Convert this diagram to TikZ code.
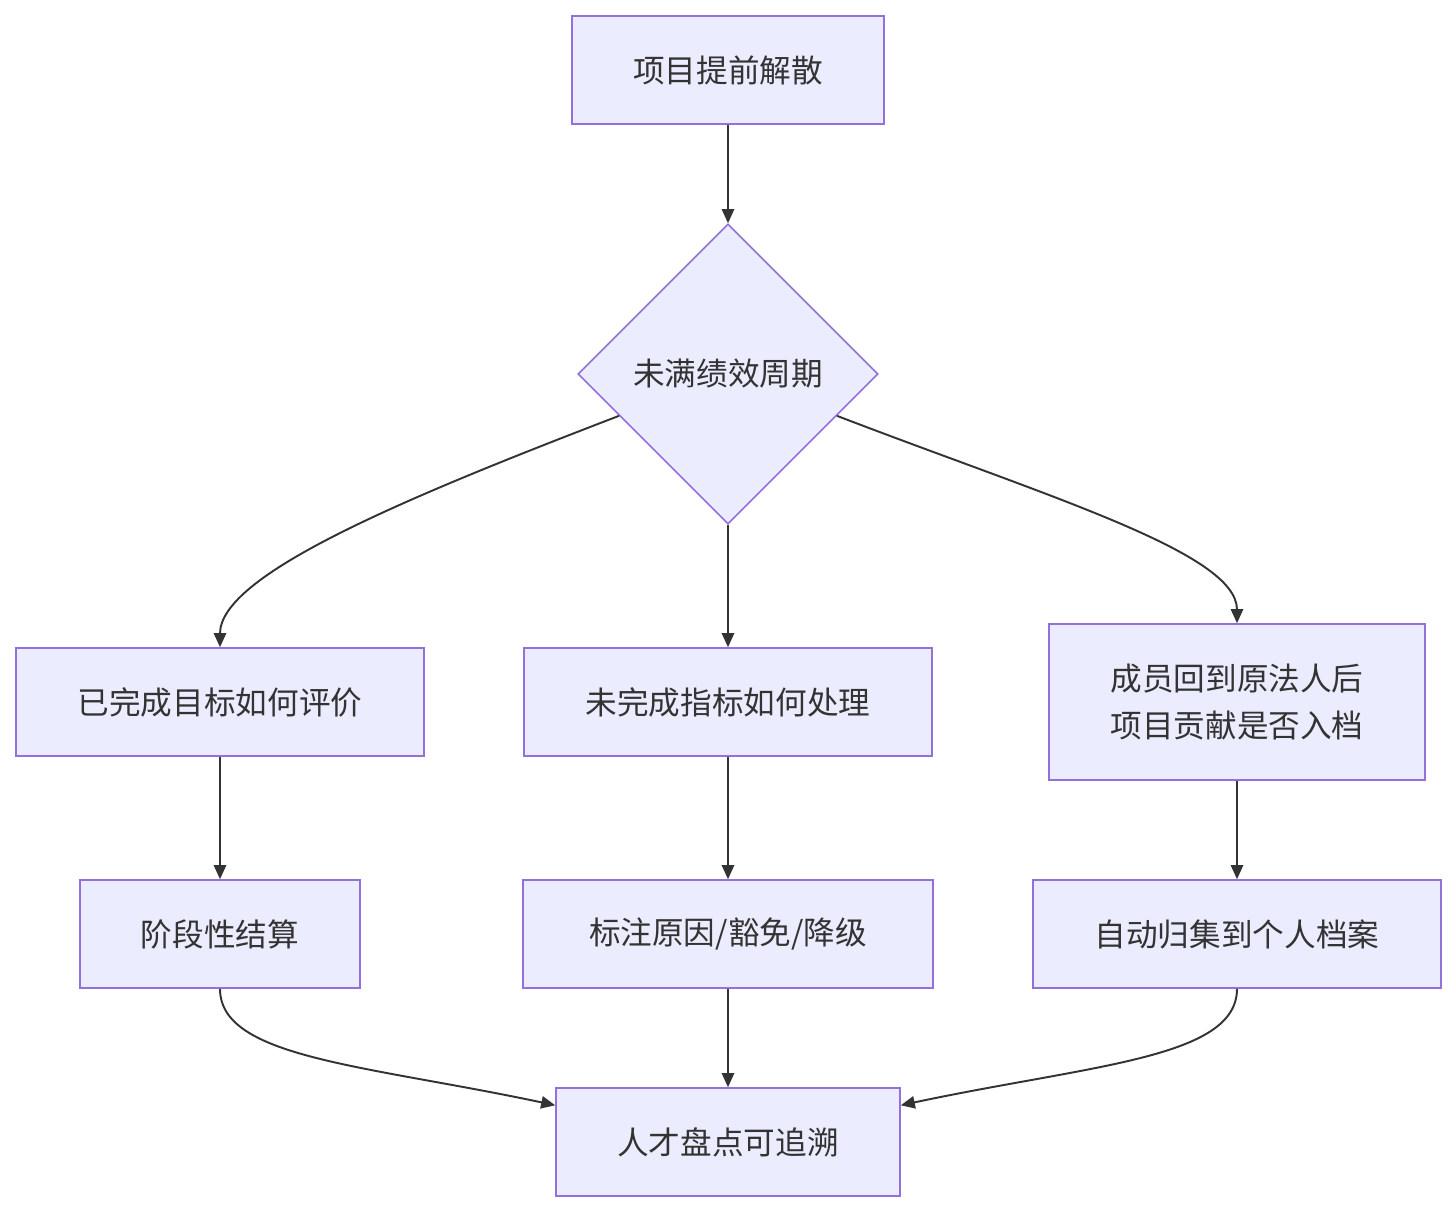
\documentclass[tikz,border=0pt]{standalone}
\usepackage{fontspec}
\setmainfont{Noto Sans CJK SC}
\usepackage{xcolor}
\usepackage{tikz}
\usetikzlibrary{positioning, arrows.meta, shapes.geometric, calc}

\definecolor{boxfill}{HTML}{ECECFF}
\definecolor{boxline}{HTML}{9370DB}
\definecolor{linkcol}{HTML}{333333}

\begin{document}
\begin{tikzpicture}[
        font=\fontsize{18}{27}\selectfont,
        box/.style={draw=boxline, fill=boxfill, line width=0.9pt, text=linkcol, minimum height=2.16cm, inner sep=0pt, align=center},
        choice/.style={diamond, draw=boxline, fill=boxfill, line width=0.9pt, text=linkcol, minimum width=6cm, minimum height=6cm, inner sep=0pt},
        flow/.style={draw=linkcol, line width=1.1pt, -{Triangle[length=8pt, width=7pt]}}
    ]
        \useasboundingbox (0,0) rectangle (29.12,-24.24);

        % Draw steps
        \node[box, minimum width=6.24cm] (dissolve) at (14.56,-1.40) {项目提前解散};
        \node[choice] (period) at (14.56,-7.48) {未满绩效周期};
        \node[box, minimum width=8.16cm] (done) at (4.40,-14.04) {已完成目标如何评价};
        \node[box, minimum width=8.16cm] (undone) at (14.56,-14.04) {未完成指标如何处理};
        \node[box, minimum width=7.52cm, minimum height=3.12cm] (member) at (24.74,-14.04) {成员回到原法人后\\项目贡献是否入档};
        \node[box, minimum width=5.60cm] (settle) at (4.40,-18.68) {阶段性结算};
        \node[box, minimum width=8.20cm] (mark) at (14.56,-18.68) {标注原因/豁免/降级};
        \node[box, minimum width=8.16cm] (archive) at (24.74,-18.68) {自动归集到个人档案};
        \node[box, minimum width=6.88cm] (trace) at (14.56,-22.84) {人才盘点可追溯};

        % Draw links
        \draw[flow] (dissolve) -- (period);
        \draw[flow] (period.201) to[out=201, in=90, out looseness=1.3, in looseness=0.4] (done.north);
        \draw[flow] (period) -- (undone);
        \draw[flow] (period.339) to[out=-21, in=90, out looseness=1.3, in looseness=0.4] (member.north);
        \draw[flow] (done) -- (settle);
        \draw[flow] (undone) -- (mark);
        \draw[flow] (member) -- (archive);
        \draw[flow] (settle.south) to[out=-90, in=168, out looseness=0.5, in looseness=1.4] (trace.168);
        \draw[flow] (mark) -- (trace);
        \draw[flow] (archive.south) to[out=-90, in=12, out looseness=0.5, in looseness=1.4] (trace.12);
    \end{tikzpicture}
\end{document}
